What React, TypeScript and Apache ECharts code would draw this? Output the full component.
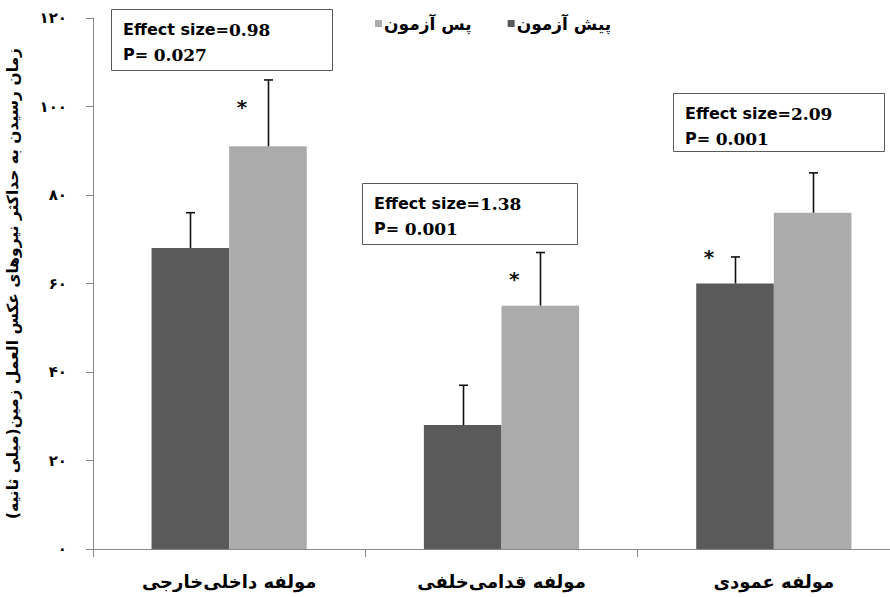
import React, { useEffect, useRef } from "react";
import * as echarts from "echarts";

const categories = ["مولفه داخلی\u200cخارجی", "مولفه قدامی\u200cخلفی", "مولفه عمودی"];
const seriesNames = ["پیش آزمون", "پس آزمون"];
const preTest = [68, 28, 60];
const postTest = [91, 55, 76];
const preErr = [8, 9, 6];
const postErr = [15, 12, 9];
// stars: [category index, value, series index (0 = pre, 1 = post)]
const stars = [
  [0, 100, 1],
  [1, 61, 1],
  [2, 66, 0],
];
const effectSizes = ["0.98", "1.38", "2.09"];
const pValues = ["0.027", "0.001", "0.001"];
const yTitle = "زمان رسیدن به حداکثر نیروهای عکس العمل زمین(میلی ثانیه)";

const persianDigits = ["۰", "۱", "۲", "۳", "۴", "۵", "۶", "۷", "۸", "۹"];
const toPersian = (v: number) =>
  String(v).replace(/[0-9]/g, (d) => persianDigits[Number(d)]);

const PRE_COLOR = "#5a5a5a";
const POST_COLOR = "#ababab";
const CAT_GAP = 0.43;
const FA_FONT = "'DejaVu Sans', 'Noto Sans', sans-serif";

export default function App() {
  const ref = useRef<HTMLDivElement>(null);
  useEffect(() => {
    if (!ref.current) return;
    const chart = echarts.init(ref.current, undefined, { renderer: "svg" });

    const barOffset = (api: any, sIdx: number) => {
      const band = api.size([1, 0])[0];
      const bw = (band * (1 - CAT_GAP)) / 2;
      return sIdx === 0 ? -bw / 2 : bw / 2;
    };

    const errData = [
      ...preTest.map((v, i) => [i, v, preErr[i], 0]),
      ...postTest.map((v, i) => [i, v, postErr[i], 1]),
    ];

    const boxRich = {
      s: { fontFamily: "'DejaVu Sans', sans-serif", fontWeight: "bold", fontSize: 16, fill: "#000", lineHeight: 25 },
      n: { fontFamily: "'DejaVu Serif', serif", fontWeight: "bold", fontSize: 17, fill: "#000", lineHeight: 25 },
    } as any;
    const boxes = [
      { x: 111, y: 9, w: 221, h: 61 },
      { x: 362, y: 183, w: 215, h: 61 },
      { x: 673, y: 93, w: 211, h: 58 },
    ];
    const graphics: any[] = [];
    boxes.forEach((b, i) => {
      graphics.push({
        type: "rect",
        shape: { x: b.x + 0.5, y: b.y + 0.5, width: b.w, height: b.h },
        style: { fill: "#fff", stroke: "#595959", lineWidth: 1 },
        z: 10,
      });
      graphics.push({
        type: "text",
        x: b.x + 12,
        y: b.y + 8,
        z: 11,
        style: {
          text: `{s|Effect size=}{n|${effectSizes[i]}}\n{s|P= }{n|${pValues[i]}}`,
          rich: boxRich,
          fill: "#000",
        },
      });
    });

    const option: any = {
      animation: false,
      backgroundColor: "#fff",
      grid: { left: 93, right: -20, top: 18, bottom: 48, containLabel: false, outerBoundsMode: "none" },
      legend: {
        data: [seriesNames[1], seriesNames[0]],
        left: 370,
        top: 10,
        itemWidth: 7,
        itemHeight: 7,
        itemGap: 36,
        icon: "rect",
        textStyle: { fontFamily: FA_FONT, fontWeight: "bold", fontSize: 17, color: "#000", padding: [0, 0, 0, -3] },
      },
      xAxis: {
        type: "category",
        data: categories,
        axisLine: { lineStyle: { color: "#898989", width: 1 } },
        axisTick: { show: true, length: 8, alignWithLabel: false, lineStyle: { color: "#898989" } },
        axisLabel: { fontFamily: FA_FONT, fontWeight: "bold", fontSize: 18, color: "#000", margin: 23, hideOverlap: false },
        splitLine: { show: false },
      },
      yAxis: {
        type: "value",
        min: 0,
        max: 120,
        interval: 20,
        name: yTitle,
        nameLocation: "middle",
        nameRotate: 90,
        nameGap: 72,
        nameTextStyle: { fontFamily: FA_FONT, fontWeight: "bold", fontSize: 15.5, color: "#000" },
        axisLine: { show: true, lineStyle: { color: "#898989", width: 1 } },
        axisTick: { show: true, length: 7, lineStyle: { color: "#898989" } },
        axisLabel: {
          formatter: (v: number) => toPersian(v),
          fontFamily: FA_FONT,
          fontWeight: "bold",
          fontSize: 15,
          color: "#000",
          margin: 26,
        },
        splitLine: { show: false },
      },
      graphic: graphics,
      series: [
        {
          name: seriesNames[0],
          type: "bar",
          data: preTest,
          barGap: "0%",
          barCategoryGap: CAT_GAP * 100 + "%",
          itemStyle: { color: PRE_COLOR },
        },
        {
          name: seriesNames[1],
          type: "bar",
          data: postTest,
          barGap: "0%",
          barCategoryGap: CAT_GAP * 100 + "%",
          itemStyle: { color: POST_COLOR },
        },
        {
          type: "custom",
          name: "err",
          data: errData,
          encode: { x: 0, y: 1 },
          z: 5,
          renderItem: (params: any, api: any) => {
            const cat = api.value(0);
            const val = api.value(1);
            const err = api.value(2);
            const sIdx = api.value(3);
            const off = barOffset(api, sIdx);
            const p0 = api.coord([cat, val]);
            const p1 = api.coord([cat, val + err]);
            const x = Math.round(p0[0] + off) + 0.5;
            const style = { stroke: "#111", lineWidth: 1.6 };
            return {
              type: "group",
              children: [
                { type: "line", shape: { x1: x, y1: p0[1], x2: x, y2: p1[1] }, style },
                { type: "line", shape: { x1: x - 4.5, y1: p1[1], x2: x + 4.5, y2: p1[1] }, style },
              ],
            };
          },
        },
        {
          type: "custom",
          name: "stars",
          data: stars,
          encode: { x: 0, y: 1 },
          z: 6,
          renderItem: (params: any, api: any) => {
            const cat = api.value(0);
            const val = api.value(1);
            const sIdx = api.value(2);
            const off = barOffset(api, sIdx);
            const p = api.coord([cat, val]);
            return {
              type: "text",
              x: p[0] + off - 26,
              y: p[1],
              style: {
                text: "*",
                fontFamily: "'DejaVu Sans', sans-serif",
                fontWeight: "bold",
                fontSize: 20,
                fill: "#111",
                align: "center",
                verticalAlign: "middle",
              },
            };
          },
        },
      ],
    };
    chart.setOption(option);
    return () => chart.dispose();
  }, []);
  return (
    <div
      ref={ref}
      style={{ position: "absolute", left: 0, top: 0, width: 890, height: 597 }}
    />
  );
}
